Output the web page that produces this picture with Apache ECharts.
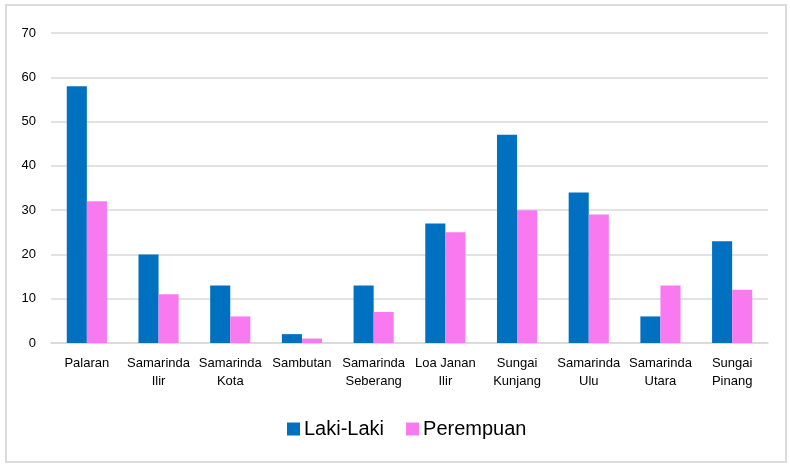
<!DOCTYPE html>
<html>
<head>
<meta charset="utf-8">
<script src="https://cdn.jsdelivr.net/npm/echarts@6/dist/echarts.min.js"></script>
<style>
html,body{margin:0;padding:0;background:#fff;}
#frame{position:absolute;left:5px;top:4px;width:782px;height:459px;border:2px solid #dcdcdc;box-sizing:border-box;}
#c{position:absolute;left:0;top:0;width:790px;height:466px;}
</style>
</head>
<body>
<div id="frame"></div>
<div id="c"></div>
<script>
var categories = ['Palaran','Samarinda\nIlir','Samarinda\nKota','Sambutan','Samarinda\nSeberang','Loa Janan\nIlir','Sungai\nKunjang','Samarinda\nUlu','Samarinda\nUtara','Sungai\nPinang'];
var lakiLaki = [58, 20, 13, 2, 13, 27, 47, 34, 6, 23];
var perempuan = [32, 11, 6, 1, 7, 25, 30, 29, 13, 12];
var seriesNames = ['Laki-Laki', 'Perempuan'];

var chart = echarts.init(document.getElementById('c'));
chart.setOption({
  animation: false,
  textStyle: { fontFamily: 'Liberation Sans, Arial, sans-serif' },
  grid: { left: 51, right: 22, top: 33, bottom: 123 },
  legend: {
    data: seriesNames,
    left: 282, top: 414,
    itemWidth: 13, itemHeight: 13, itemGap: 22,
    icon: 'rect',
    textStyle: { fontSize: 20, color: '#000', fontFamily: 'Liberation Sans, Arial, sans-serif', padding: [0,0,0,-1] }
  },
  xAxis: {
    type: 'category',
    data: categories,
    axisTick: { show: false },
    axisLine: { lineStyle: { color: '#d9d9d9', width: 1.5 } },
    axisLabel: { color: '#000', fontSize: 13, lineHeight: 18, margin: 11, interval: 0 }
  },
  yAxis: {
    type: 'value',
    min: 0, max: 70, interval: 10,
    axisLabel: { color: '#000', fontSize: 13, margin: 15 },
    splitLine: { lineStyle: { color: '#d9d9d9', width: 1.5 } },
    axisLine: { show: false },
    axisTick: { show: false }
  },
  series: [
    { name: seriesNames[0], type: 'bar', data: lakiLaki, barGap: '0%', barCategoryGap: '44%',
      itemStyle: { color: '#0070C0' } },
    { name: seriesNames[1], type: 'bar', data: perempuan, barGap: '0%', barCategoryGap: '44%',
      itemStyle: { color: '#F97AF0' } }
  ]
});
</script>
</body>
</html>
